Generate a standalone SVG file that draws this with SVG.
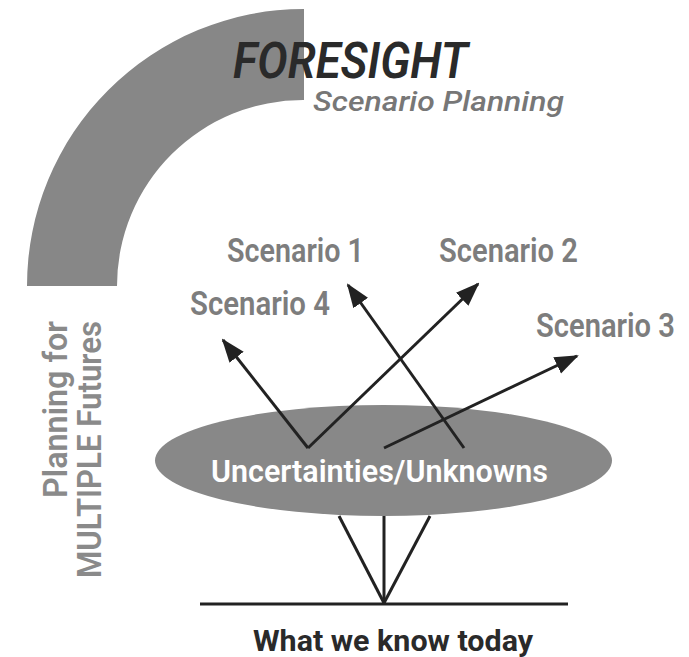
<svg xmlns="http://www.w3.org/2000/svg" width="689" height="657" viewBox="0 0 689 657">
<style>
  text { font-family: "Roboto", "Open Sans", "DejaVu Sans", sans-serif; }
  .title { font-size: 50px; font-style: italic; font-weight: 600; fill: #2a2a2a; }
  .sub { font-size: 28px; font-style: italic; font-weight: 500; fill: #777777; }
  .scen { font-size: 34px; font-weight: 600; fill: #7d7d7d; }
  .side { font-size: 34px; font-weight: 600; fill: #8a8a8a; }
  .inner { font-size: 31px; font-weight: 600; fill: #ffffff; }
  .base { font-size: 30px; font-weight: 700; fill: #2a2a2a; }
  .ln { stroke: #222222; stroke-width: 3; fill: none; }
</style>
<defs>
  <marker id="ah" markerUnits="userSpaceOnUse" markerWidth="24" markerHeight="20" viewBox="0 0 24 20" refX="22" refY="10" orient="auto">
    <path d="M0,1 L24,10 L0,19 Z" fill="#222222"/>
  </marker>
</defs>
<rect width="689" height="657" fill="#ffffff"/>
<g id="arc">
  <path d="M27,286 A277,277 0 0 1 304,9 L304,100 A186,186 0 0 0 117,286 Z" fill="#878787"/>
</g>
<g id="title">
  <text class="title" x="233" y="78" textLength="235" lengthAdjust="spacingAndGlyphs">FORESIGHT</text>
  <text class="sub" x="313" y="111" textLength="251" lengthAdjust="spacingAndGlyphs">Scenario Planning</text>
</g>
<g id="side-label">
  <text class="side" transform="translate(67,321) rotate(-90)" x="-177" y="0" textLength="177" lengthAdjust="spacingAndGlyphs">Planning for</text>
  <text class="side" transform="translate(101,321) rotate(-90)" x="-257" y="0" textLength="257" lengthAdjust="spacingAndGlyphs">MULTIPLE Futures</text>
</g>
<g id="uncertainties">
  <ellipse cx="383.5" cy="460.5" rx="228.5" ry="55.5" fill="#888888"/>
  <text class="inner" x="211" y="482" textLength="337" lengthAdjust="spacingAndGlyphs">Uncertainties/Unknowns</text>
</g>
<g id="scenario1"><text class="scen" x="227" y="262" textLength="137" lengthAdjust="spacingAndGlyphs">Scenario 1</text></g>
<g id="scenario2"><text class="scen" x="439" y="262" textLength="139" lengthAdjust="spacingAndGlyphs">Scenario 2</text></g>
<g id="scenario3"><text class="scen" x="536" y="337" textLength="139" lengthAdjust="spacingAndGlyphs">Scenario 3</text></g>
<g id="scenario4"><text class="scen" x="190" y="315" textLength="140" lengthAdjust="spacingAndGlyphs">Scenario 4</text></g>
<g id="today">
  <line class="ln" x1="200" y1="604" x2="568" y2="604"/>
  <text class="base" x="253" y="651" textLength="280" lengthAdjust="spacingAndGlyphs">What we know today</text>
</g>
<g id="connectors">
  <line class="ln" x1="308" y1="448" x2="223" y2="340" marker-end="url(#ah)"/>
  <line class="ln" x1="308" y1="448" x2="478" y2="284" marker-end="url(#ah)"/>
  <line class="ln" x1="464" y1="448" x2="348" y2="285" marker-end="url(#ah)"/>
  <line class="ln" x1="384" y1="448" x2="577" y2="356" marker-end="url(#ah)"/>
  <line class="ln" x1="384" y1="603" x2="339" y2="516"/>
  <line class="ln" x1="384" y1="603" x2="384" y2="516"/>
  <line class="ln" x1="384" y1="603" x2="430" y2="516"/>
</g>
</svg>
